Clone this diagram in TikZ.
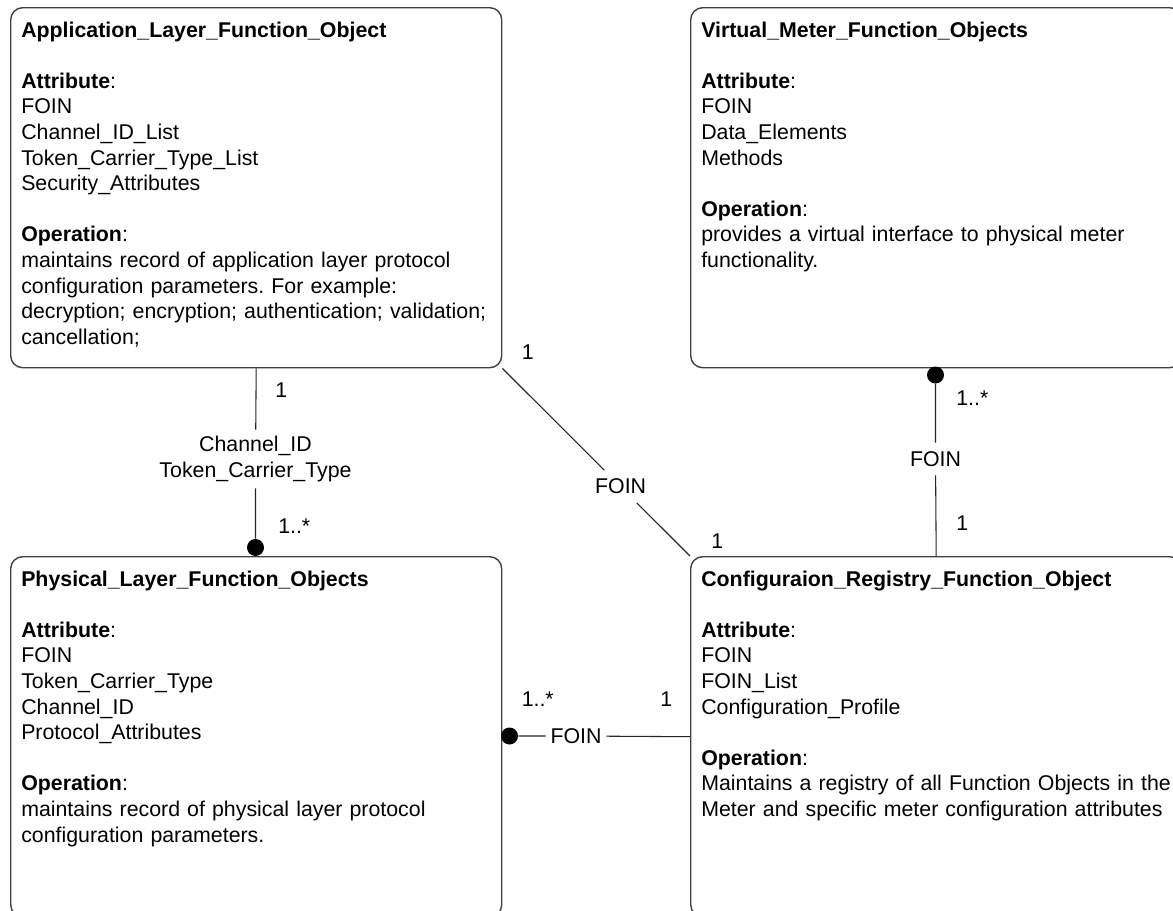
\documentclass[tikz,border=0pt]{standalone}
\usepackage{fontspec}
\setmainfont{Liberation Sans}
\usetikzlibrary{calc}
\frenchspacing
\begin{document}
\begin{tikzpicture}[x=0.75pt,y=-0.75pt,
  box/.style={draw=black!75, line width=1.05pt, rounded corners=9pt, minimum width=368.25pt, minimum height=270pt, anchor=north west, inner sep=0pt},
  txt/.style={anchor=base west, inner sep=0pt, text width=400pt, align=left, font=\fontsize{16pt}{19.2pt}\selectfont\frenchspacing},
  lbl/.style={inner sep=0pt, font=\fontsize{16pt}{19.2pt}\selectfont},
  mult/.style={lbl, anchor=base west},
  conn/.style={draw=black!85, line width=0.8pt},
  dotn/.style={circle, fill=black, draw=none, inner sep=0pt, minimum size=12.75pt},
]
\useasboundingbox (0,0) rectangle (1173,910);
\clip (0,0) rectangle (1173,910);

% boxes
\node[box] (AL) at (10,7) {};
\node[box] (VM) at (690,7) {};
\node[box] (PL) at (10,556) {};
\node[box] (CR) at (690,556) {};

% box texts
\node[txt] (ALt) at (21,37) {\textbf{Application\_Layer\_Function\_Object}\\[19.2pt]
\textbf{Attribute}:\\
FOIN\\
Channel\_ID\_List\\
Token\_Carrier\_Type\_List\\
Security\_Attributes\\[19.2pt]
\textbf{Operation}:\\
maintains record of application layer protocol\\
configuration parameters. For example:\\
decryption; encryption; authentication; validation;\\
cancellation;};

\node[txt] (VMt) at (701,37) {\textbf{Virtual\_Meter\_Function\_Objects}\\[19.2pt]
\textbf{Attribute}:\\
FOIN\\
Data\_Elements\\
Methods\\[19.2pt]
\textbf{Operation}:\\
provides a virtual interface to physical meter\\
functionality.};

\node[txt] (PLt) at (21,586) {\textbf{Physical\_Layer\_Function\_Objects}\\[19.2pt]
\textbf{Attribute}:\\
FOIN\\
Token\_Carrier\_Type\\
Channel\_ID\\
Protocol\_Attributes\\[19.2pt]
\textbf{Operation}:\\
maintains record of physical layer protocol\\
configuration parameters.};

\node[txt] (CRt) at (701,586) {\textbf{Configuraion\_Registry\_Function\_Object}\\[19.2pt]
\textbf{Attribute}:\\
FOIN\\
FOIN\_List\\
Configuration\_Profile\\[19.2pt]
\textbf{Operation}:\\
Maintains a registry of all Function Objects in the\\
Meter and specific meter configuration attributes};

% connector AL -- PL
\node[dotn] (d1) at (255.5,547.5) {};
\node[lbl, align=center, minimum height=43.5pt] (c1) at (255.5,459) {Channel\_ID\\Token\_Carrier\_Type};
\draw[conn] (AL.south) -- (c1) -- (d1);
\node[mult] (m1a) at (275,397.7) {1};
\node[mult] (m1b) at (278,533) {1..*};

% connector AL -- CR
\node[lbl, inner xsep=3pt, minimum height=24pt] (c2) at ($(AL.south east)!0.63!(CR.north west)$) {FOIN};
\draw[conn] (AL.south east) -- (c2) -- (CR.north west);
\node[mult] (m2a) at (521.5,359) {1};
\node[mult] (m2b) at (711,548) {1};

% connector PL -- CR
\node[dotn] (d3) at (509.5,736) {};
\node[lbl, inner xsep=3.4pt, minimum height=24pt] (c3) at (576,736) {FOIN};
\draw[conn] (d3) -- (c3) -- (CR.west);
\node[mult] (m3a) at (521.5,706.7) {1..*};
\node[mult] (m3b) at (660,706.7) {1};

% connector VM -- CR
\node[dotn] (d4) at (935.5,375) {};
\node[lbl, minimum height=24pt] (c4) at (935.5,459) {FOIN};
\draw[conn] (d4) -- (c4) -- (CR.north);
\node[mult] (m4a) at (956,405) {1..*};
\node[mult] (m4b) at (956,530) {1};
\end{tikzpicture}
\end{document}
